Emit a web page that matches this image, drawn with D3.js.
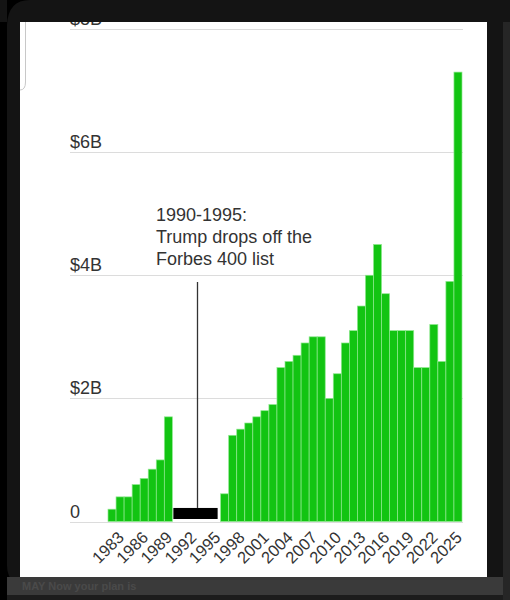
<!DOCTYPE html>
<html>
<head>
<meta charset="utf-8">
<script src="https://cdn.jsdelivr.net/npm/d3@7"></script>
<style>
  body { margin: 0; background: #000; }
  svg { display: block; }
</style>
</head>
<body>
<div id="chart"></div>
<script>
// Trump net worth on the Forbes 400, $ billions (null = off the list)
var years = d3.range(1982, 2026);
var worth = [0.2, 0.4, 0.4, 0.6, 0.7, 0.85, 1.0, 1.7,
  null, null, null, null, null, null,
  0.45, 1.4, 1.5, 1.6, 1.7, 1.8, 1.9, 2.5, 2.6, 2.7, 2.9, 3.0, 3.0,
  2.0, 2.4, 2.9, 3.1, 3.5, 4.0, 4.5, 3.7, 3.1, 3.1, 3.1, 2.5, 2.5,
  3.2, 2.6, 3.9, 7.3];
var yTicks = [0, 2, 4, 6, 8];
var yTickLabels = ["0", "$2B", "$4B", "$6B", "$8B"];
var tickYears = d3.range(1983, 2026, 3);
var offYears = [1990, 1995];
var noteLines = ["1990-1995:", "Trump drops off the", "Forbes 400 list"];

var W = 510, H = 600;
var font = "'Liberation Sans', Arial, sans-serif";

var svg = d3.select("#chart").append("svg")
  .attr("width", W)
  .attr("height", H);

// phone frame behind the screenshot
svg.append("rect").attr("width", W).attr("height", H).attr("fill", "#000");
svg.append("rect")
  .attr("x", 7).attr("y", -30).attr("width", W).attr("height", H + 20)
  .attr("rx", 24).attr("fill", "#141414");
svg.append("rect")
  .attr("x", 503).attr("y", 0).attr("width", 7).attr("height", H)
  .attr("fill", "#262626");
svg.append("rect")
  .attr("x", 20).attr("y", 22).attr("width", 467).attr("height", 555)
  .attr("fill", "#fff");

var x = d3.scaleBand()
  .domain(years)
  .range([108, 462])
  .padding(0);

var y = d3.scaleLinear()
  .domain([0, 8])
  .range([521.5, 29]);

var g = svg.append("g");

// gridlines
g.selectAll(".grid")
  .data(yTicks)
  .enter().append("line")
  .attr("x1", 70)
  .attr("x2", 463)
  .attr("y1", function(d) { return Math.round(y(d)) + 0.5; })
  .attr("y2", function(d) { return Math.round(y(d)) + 0.5; })
  .attr("stroke", "#dcdcdc")
  .attr("stroke-width", 1);

g.selectAll(".ylab")
  .data(yTicks)
  .enter().append("text")
  .attr("x", 70)
  .attr("y", function(d) { return y(d) - 4; })
  .attr("font-family", font)
  .attr("font-size", 18)
  .attr("fill", "#333")
  .text(function(d, i) { return yTickLabels[i]; });

// bars
var bars = years.map(function(yr, i) { return {year: yr, v: worth[i]}; })
  .filter(function(d) { return d.v !== null; });

g.selectAll(".bar")
  .data(bars)
  .enter().append("rect")
  .attr("x", function(d) { return x(d.year); })
  .attr("y", function(d) { return y(d.v); })
  .attr("width", x.bandwidth())
  .attr("height", function(d) { return y(0) - y(d.v); })
  .attr("fill", "#12c412")
  .attr("stroke", "#8fe88f")
  .attr("stroke-width", 0.7);

// off-list block
var offX0 = x(offYears[0]) + 1;
var offX1 = x(offYears[1]) + x.bandwidth() - 3;
g.append("rect")
  .attr("x", offX0)
  .attr("y", y(0.22))
  .attr("width", offX1 - offX0)
  .attr("height", y(0) - y(0.22) - 2.5)
  .attr("fill", "#000");

var noteX = (offX0 + offX1) / 2 + 2;
g.append("line")
  .attr("x1", noteX).attr("x2", noteX)
  .attr("y1", 282)
  .attr("y2", y(0.22))
  .attr("stroke", "#333")
  .attr("stroke-width", 1.3);

g.append("text")
  .attr("font-family", font)
  .attr("font-size", 18)
  .attr("fill", "#333")
  .selectAll("tspan")
  .data(noteLines)
  .enter().append("tspan")
  .attr("x", 156)
  .attr("y", function(d, i) { return 221 + i * 22; })
  .text(function(d) { return d; });

// x tick labels, rotated
g.selectAll(".xlab")
  .data(tickYears)
  .enter().append("text")
  .attr("text-anchor", "end")
  .attr("font-family", font)
  .attr("font-size", 16.5)
  .attr("fill", "#333")
  .attr("transform", function(d) {
    return "translate(" + (x(d) + x.bandwidth() / 2 + 5) + "," + (y(0) + 17) + ") rotate(-45)";
  })
  .text(function(d) { return d; });

// frame pieces drawn on top
svg.append("path")
  .attr("d", "M0,0 H" + W + " V22 H0 Z")
  .attr("fill", "#141414");
svg.append("path")
  .attr("d", "M0,0 H30 Q8,0 7,25 V0 Z")
  .attr("fill", "#000");
svg.append("path")
  .attr("d", "M25.5,22 V82 Q25.5,90 20,90")
  .attr("fill", "none")
  .attr("stroke", "#c8c8c8")
  .attr("stroke-width", 1);
svg.append("rect")
  .attr("x", 7).attr("y", 577).attr("width", 496).attr("height", 18)
  .attr("fill", "#3a3a3a");
svg.append("rect")
  .attr("x", 7).attr("y", 595).attr("width", 496).attr("height", 5)
  .attr("fill", "#1c1c1c");
svg.append("text")
  .attr("x", 22).attr("y", 590)
  .attr("font-family", font)
  .attr("font-size", 11)
  .attr("font-weight", "bold")
  .attr("fill", "#4a4a4a")
  .text("MAY  Now your plan is");
</script>
</body>
</html>
